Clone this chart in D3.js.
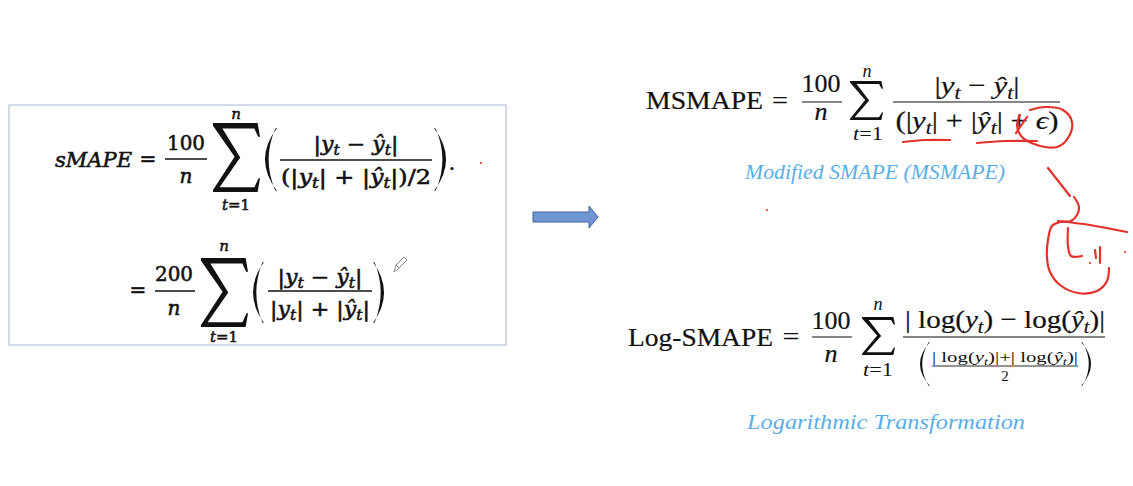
<!DOCTYPE html>
<html>
<head>
<meta charset="utf-8">
<script src="https://cdn.jsdelivr.net/npm/d3@7"></script>
<style>
  html, body { margin: 0; background: #fff; overflow: hidden; }
</style>
</head>
<body>
<svg id="slide"></svg>
<script>
// formula pieces. letters are italic unless wrapped in [..], _c is a subscript
const leftNames = ["sMAPE", ""];
const leftConsts = ["100", "200"];
const leftNums = ["|y_t − ŷ_t|", "|y_t − ŷ_t|"];
const leftDens = ["(|y_t| + |ŷ_t|)/2", "|y_t| + |ŷ_t|"];
const sumLimits = ["n", "t=1"];
const rightNames = ["[MSMAPE]", "[Log-SMAPE]"];
const rightNums = ["|y_t − ŷ_t|", "| [log](y_t) − [log](ŷ_t)|"];
const rightDens = ["(|y_t| + |ŷ_t| + ϵ)", "| [log](y_t)|+| [log](ŷ_t)|"];
const halfDen = "2";
const captions = ["Modified SMAPE (MSMAPE)", "Logarithmic Transformation"];

const W = 1133, H = 486;
const ink = "#111", red = "#e3312b", blue = "#5aaee6";
const leftFont = "'DejaVu Serif', serif";
const rightFont = "'Liberation Serif', serif";

const svg = d3.select("#slide").attr("width", W).attr("height", H);
svg.append("rect").attr("width", W).attr("height", H).attr("fill", "#fff");

// text with italic letters and subscripts
function rich(g, str, x, y, size, font, opts = {}) {
  const t = g.append("text")
    .attr("x", x).attr("y", y)
    .attr("font-size", size)
    .attr("font-family", font)
    .attr("text-anchor", opts.anchor || "middle")
    .attr("fill", opts.fill || ink);
  if (opts.weight) t.attr("stroke", opts.fill || ink).attr("stroke-width", opts.weight);
  if (opts.width) t.attr("textLength", opts.width).attr("lengthAdjust", "spacingAndGlyphs");
  const runs = [];
  let up = false;
  for (let i = 0; i < str.length; i++) {
    const c = str[i];
    if (c === "[") { up = true; continue; }
    if (c === "]") { up = false; continue; }
    let r;
    if (c === "_") { i++; r = {c: str[i], sub: true, it: true}; }
    else r = {c, sub: false, it: opts.allItalic || (!up && /[A-Za-zŷϵ]/.test(c))};
    const last = runs[runs.length - 1];
    if (last && last.sub === r.sub && last.it === r.it) last.c += r.c;
    else runs.push(r);
  }
  let shift = 0;
  runs.forEach(r => {
    const s = t.append("tspan").text(r.c).attr("font-style", r.it ? "italic" : "normal");
    if (r.sub) {
      const d = size * 0.2;
      s.attr("font-size", size * 0.7).attr("dy", d - shift);
      shift = d;
    } else if (shift) {
      s.attr("dy", -shift);
      shift = 0;
    }
  });
  return t;
}

function bar(g, x0, x1, y, w) {
  g.append("line").attr("x1", x0).attr("x2", x1).attr("y1", y).attr("y2", y)
    .attr("stroke", ink).attr("stroke-width", w || 1.5);
}

// big summation sign fitted into a box with scales
const sigmaShape = [[0, 0], [0.95, 0], [1, 0.2], [0.96, 0.2], [0.88, 0.08], [0.2, 0.08],
  [0.58, 0.5], [0.14, 0.93], [0.88, 0.93], [0.97, 0.8], [1, 0.8], [0.95, 1], [0, 1],
  [0, 0.97], [0.46, 0.49], [0, 0.04]];
function sigma(g, x0, x1, y0, y1) {
  const sx = d3.scaleLinear().domain([0, 1]).range([x0, x1]);
  const sy = d3.scaleLinear().domain([0, 1]).range([y0, y1]);
  g.append("path")
    .attr("d", d3.line().x(d => sx(d[0])).y(d => sy(d[1]))(sigmaShape) + "Z")
    .attr("fill", ink);
}

// tall parenthesis (left or right) fitted into a box
function paren(g, x0, x1, y0, y1, right, t) {
  const sx = d3.scaleLinear().domain([0, 1]).range(right ? [x1, x0] : [x0, x1]);
  const sy = d3.scaleLinear().domain([0, 1]).range([y0, y1]);
  const th = t || 0.3;
  const c = (th - 0.85 * 0.5) * 2;
  const p = d3.path();
  p.moveTo(sx(1), sy(0));
  p.quadraticCurveTo(sx(-1), sy(0.5), sx(1), sy(1));
  p.lineTo(sx(0.85), sy(0.99));
  p.quadraticCurveTo(sx(c), sy(0.5), sx(0.85), sy(0.01));
  p.closePath();
  g.append("path").attr("d", p.toString()).attr("fill", ink);
}

// ---------- left box ----------
const left = svg.append("g");
left.append("rect").attr("x", 9).attr("y", 105).attr("width", 497).attr("height", 240)
  .attr("fill", "#fff").attr("stroke", "#c3cfdf").attr("stroke-width", 1.5);

const L = {weight: 0.55};
// row 1
rich(left, leftNames[0], 55, 167, 20, leftFont, {...L, anchor: "start", width: 77, allItalic: true});
rich(left, "=", 148, 166, 20, leftFont, L);
rich(left, leftConsts[0], 186, 150, 20, leftFont, {...L, width: 38});
bar(left, 165, 207, 159);
rich(left, sumLimits[0], 186, 183, 20, leftFont, L);
sigma(left, 213, 260, 123, 192);
rich(left, sumLimits[0], 236, 119, 15, leftFont, L);
rich(left, sumLimits[1], 236, 210, 15, leftFont, {...L, width: 28});
paren(left, 265, 277, 128, 191, false);
rich(left, leftNums[0], 356, 151, 20, leftFont, {...L, width: 85});
bar(left, 280, 432, 160);
rich(left, leftDens[0], 356, 184, 20, leftFont, {...L, width: 150});
paren(left, 434, 446, 128, 191, true);
rich(left, ".", 452, 170, 20, leftFont, L);

// row 2
rich(left, "=", 138, 297, 20, leftFont, L);
rich(left, leftConsts[1], 174, 281, 20, leftFont, {...L, width: 38});
bar(left, 155, 195, 291);
rich(left, sumLimits[0], 174, 315, 20, leftFont, L);
sigma(left, 201, 248, 258, 327);
rich(left, sumLimits[0], 224, 251, 15, leftFont, L);
rich(left, sumLimits[1], 224, 342, 15, leftFont, {...L, width: 28});
paren(left, 253, 264, 262, 323, false);
rich(left, leftNums[1], 320, 284, 20, leftFont, {...L, width: 85});
bar(left, 268, 372, 291);
rich(left, leftDens[1], 320, 316, 20, leftFont, {...L, width: 100});
paren(left, 373, 384, 262, 323, true);

// pencil cursor
left.append("path")
  .attr("d", "M394,272 L396,265 L404,257 L407,260 L399,268 Z M396,265 L399,268")
  .attr("fill", "#fff").attr("stroke", "#8a8a8a").attr("stroke-width", 1);

// ---------- arrow ----------
svg.append("path")
  .attr("d", "M533,212 H589 V206 L598,217 L589,228 V222 H533 Z")
  .attr("fill", "#6f96d3").attr("stroke", "#41639b").attr("stroke-width", 1);

// ---------- right: MSMAPE ----------
const right = svg.append("g");
const R = {weight: 0.2};
rich(right, rightNames[0], 646, 109, 26, rightFont, {...R, anchor: "start", width: 117});
rich(right, "=", 780, 109, 26, rightFont, {...R, width: 16});
rich(right, leftConsts[0], 821, 92, 26, rightFont, {...R, width: 39});
bar(right, 802, 842, 102, 1.2);
rich(right, sumLimits[0], 821, 120, 26, rightFont, R);
sigma(right, 850, 883, 81, 120);
rich(right, sumLimits[0], 867, 77, 18, rightFont);
rich(right, sumLimits[1], 868, 140, 18, rightFont, {width: 30});
rich(right, rightNums[0], 977, 94, 26, rightFont, {...R, width: 85});
bar(right, 893, 1060, 102, 1.2);
rich(right, rightDens[0], 977, 129, 26, rightFont, {...R, width: 163});
rich(right, captions[0], 875, 179, 21, rightFont, {width: 260, allItalic: true, fill: blue});

// ---------- right: Log-SMAPE ----------
rich(right, rightNames[1], 628, 346, 26, rightFont, {...R, anchor: "start", width: 145});
rich(right, "=", 791, 345, 26, rightFont, {...R, width: 17});
rich(right, leftConsts[0], 831, 329, 26, rightFont, {...R, width: 39});
bar(right, 812, 852, 337, 1.2);
rich(right, sumLimits[0], 831, 362, 26, rightFont, R);
sigma(right, 862, 895, 317, 355);
rich(right, sumLimits[0], 878, 310, 18, rightFont);
rich(right, sumLimits[1], 878, 376, 18, rightFont, {width: 30});
rich(right, rightNums[1], 1005, 328, 26, rightFont, {...R, width: 200});
bar(right, 903, 1105, 337, 1.2);
paren(right, 920, 930, 342, 386, false, 0.22);
rich(right, rightDens[1], 1005, 362, 15, rightFont, {width: 146});
bar(right, 932, 1078, 366, 0.9);
rich(right, halfDen, 1005, 381, 15, rightFont);
paren(right, 1081, 1091, 342, 386, true, 0.22);
rich(right, captions[1], 886, 429, 22, rightFont, {width: 278, allItalic: true, fill: blue});

// ---------- red pen marks ----------
const pen = svg.append("g").attr("fill", "none").attr("stroke", red)
  .attr("stroke-width", 2.2).attr("stroke-linecap", "round").attr("stroke-linejoin", "round");
const smooth = d3.line().curve(d3.curveCatmullRom);
[
  [[903, 142], [925, 140], [950, 140]],
  [[977, 143], [1005, 141], [1037, 141]],
  [[1016, 133], [1027, 117]],
  [[1030, 110], [1045, 107], [1063, 110], [1072, 122], [1068, 138], [1057, 147], [1037, 145], [1022, 137], [1017, 125], [1020, 115]],
  [[1048, 168], [1070, 196]],
  [[1074, 197], [1079, 207], [1077, 215], [1071, 221], [1060, 222], [1052, 226], [1048, 240], [1047, 258], [1050, 272], [1060, 285], [1078, 293], [1097, 291], [1107, 281], [1109, 268]],
  [[1058, 221], [1090, 225], [1127, 232]],
  [[1068, 228], [1068, 246], [1071, 256], [1082, 256]],
  [[1095, 250], [1096, 258]],
  [[1100, 247], [1100, 263]]
].forEach(s => pen.append("path").attr("d", smooth(s)));
[[1090, 263], [1125, 252], [481, 163], [767, 210]].forEach(d =>
  pen.append("circle").attr("cx", d[0]).attr("cy", d[1]).attr("r", 1.1).attr("fill", red).attr("stroke", "none"));
</script>
</body>
</html>
